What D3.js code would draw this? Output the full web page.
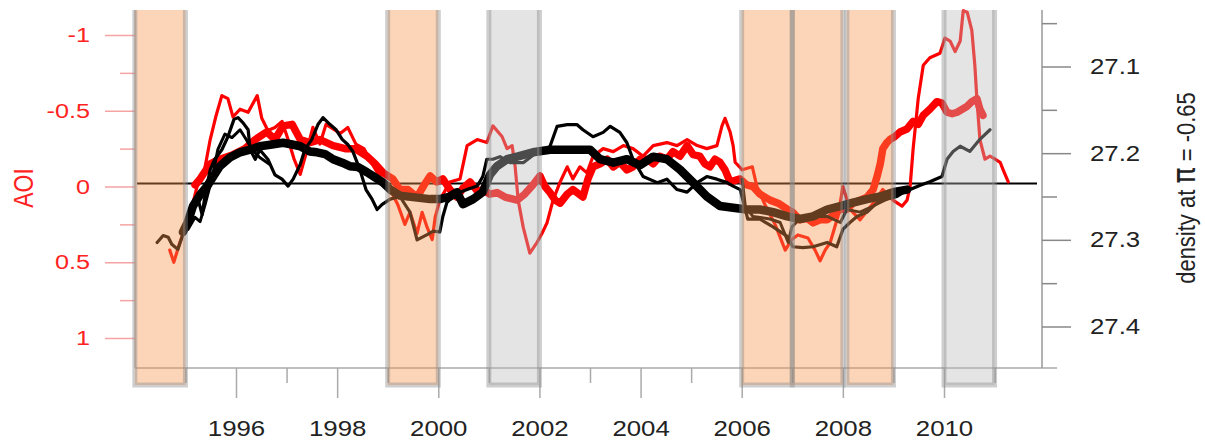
<!DOCTYPE html>
<html>
<head>
<meta charset="utf-8">
<script src="https://cdn.jsdelivr.net/npm/d3@7"></script>
<style>
  body { margin: 0; background: #fff; }
  text { font-family: "Liberation Sans", Arial, sans-serif; }
</style>
</head>
<body>
<div id="chart"></div>
<script>
// AOI (left axis, reversed), thin red line
var aoiThin = [[1994.69,0.42],[1994.77,0.50],[1994.89,0.37],[1995.09,0.19],[1995.23,0.00],[1995.35,-0.06],
  [1995.49,-0.31],[1995.60,-0.46],[1995.72,-0.60],[1995.84,-0.58],[1995.94,-0.46],[1996.08,-0.51],
  [1996.24,-0.49],[1996.42,-0.60],[1996.51,-0.45],[1996.63,-0.37],[1996.77,-0.39],[1996.91,-0.43],
  [1997.03,-0.31],[1997.15,-0.18],[1997.27,-0.08],[1997.38,-0.21],[1997.52,-0.39],[1997.66,-0.28],
  [1997.78,-0.41],[1997.92,-0.38],[1998.06,-0.35],[1998.21,-0.39],[1998.37,-0.28],[1998.53,-0.25],
  [1998.69,-0.15],[1998.85,-0.06],[1999.05,0.02],[1999.20,0.12],[1999.34,0.25],[1999.44,0.17],
  [1999.58,0.31],[1999.68,0.17],[1999.78,0.27],[1999.88,0.35],[1999.94,0.20],[2000.03,0.09],
  [2000.23,-0.03],[2000.43,-0.05],[2000.57,-0.27],[2000.77,-0.31],[2000.96,-0.29],[2001.08,-0.40],
  [2001.26,-0.33],[2001.36,-0.25],[2001.46,-0.27],[2001.52,-0.13],[2001.58,0.09],[2001.68,0.27],
  [2001.81,0.44],[2001.95,0.37],[2002.05,0.31],[2002.15,0.24],[2002.27,0.09],[2002.41,-0.03],
  [2002.55,-0.13],[2002.66,-0.05],[2002.80,-0.13],[2002.94,-0.09],[2003.06,-0.20],[2003.26,-0.25],
  [2003.46,-0.23],[2003.66,-0.27],[2003.85,-0.25],[2004.05,-0.20],[2004.25,-0.27],[2004.52,-0.29],
  [2004.72,-0.27],[2004.92,-0.31],[2005.12,-0.27],[2005.31,-0.25],[2005.51,-0.27],[2005.61,-0.40],
  [2005.67,-0.45],[2005.77,-0.36],[2005.83,-0.27],[2005.87,-0.16],[2006.01,-0.11],[2006.21,-0.13],
  [2006.30,0.00],[2006.46,0.12],[2006.66,0.25],[2006.86,0.42],[2006.99,0.35],[2007.11,0.32],
  [2007.31,0.34],[2007.45,0.42],[2007.55,0.49],[2007.65,0.42],[2007.75,0.37],[2007.91,0.19],
  [2008.00,0.00],[2008.14,0.15],[2008.34,0.22],[2008.60,0.11],[2008.79,0.02],[2008.99,0.09],
  [2009.17,0.13],[2009.27,0.09],[2009.33,0.00],[2009.39,-0.25],[2009.49,-0.58],[2009.59,-0.80],
  [2009.72,-0.85],[2009.92,-0.88],[2010.02,-0.98],[2010.12,-0.96],[2010.22,-0.89],[2010.32,-0.96],
  [2010.38,-1.16],[2010.46,-1.15],[2010.55,-1.03],[2010.61,-0.80],[2010.65,-0.58],[2010.71,-0.31],
  [2010.81,-0.18],[2010.91,-0.20],[2011.01,-0.18],[2011.11,-0.16],[2011.17,-0.11],[2011.27,-0.03]];

// AOI, thick red line
var aoiThick = [[1995.19,-0.01],[1995.29,-0.05],[1995.49,-0.15],[1995.68,-0.18],[1995.94,-0.21],
  [1996.18,-0.25],[1996.38,-0.31],[1996.61,-0.36],[1996.77,-0.31],[1996.93,-0.40],[1997.11,-0.41],
  [1997.27,-0.31],[1997.46,-0.29],[1997.66,-0.31],[1997.92,-0.27],[1998.16,-0.25],[1998.35,-0.25],
  [1998.59,-0.20],[1998.75,-0.15],[1998.91,-0.09],[1999.10,-0.05],[1999.24,0.02],[1999.40,0.02],
  [1999.58,0.07],[1999.72,-0.01],[1999.84,-0.07],[1999.97,-0.03],[2000.09,-0.05],[2000.23,0.02],
  [2000.37,0.07],[2000.49,0.01],[2000.63,-0.03],[2000.77,0.03],[2000.88,0.02],[2001.02,0.05],
  [2001.16,0.04],[2001.32,0.07],[2001.56,0.09],[2001.71,0.05],[2001.87,-0.01],[2002.01,-0.07],
  [2002.11,0.00],[2002.21,0.04],[2002.31,0.09],[2002.41,0.11],[2002.55,0.05],[2002.66,0.02],
  [2002.86,0.07],[2002.96,-0.05],[2003.06,-0.13],[2003.20,-0.15],[2003.34,-0.18],[2003.46,-0.13],
  [2003.59,-0.16],[2003.73,-0.11],[2003.85,-0.13],[2003.99,-0.18],[2004.13,-0.18],[2004.25,-0.15],
  [2004.38,-0.20],[2004.52,-0.18],[2004.64,-0.23],[2004.78,-0.20],[2004.92,-0.27],[2005.04,-0.21],
  [2005.17,-0.20],[2005.27,-0.15],[2005.37,-0.13],[2005.47,-0.18],[2005.57,-0.16],[2005.67,-0.11],
  [2005.77,-0.03],[2005.97,-0.05],[2006.10,-0.01],[2006.22,0.00],[2006.36,0.05],[2006.56,0.09],
  [2006.72,0.11],[2006.90,0.15],[2007.01,0.17],[2007.15,0.22],[2007.29,0.21],[2007.41,0.24],
  [2007.55,0.22],[2007.69,0.22],[2007.81,0.19],[2007.95,0.15],[2008.08,0.15],[2008.20,0.11],
  [2008.34,0.09],[2008.48,0.07],[2008.60,0.02],[2008.68,-0.07],[2008.74,-0.15],[2008.79,-0.25],
  [2008.87,-0.29],[2008.93,-0.31],[2009.03,-0.33],[2009.13,-0.36],[2009.27,-0.38],[2009.39,-0.43],
  [2009.49,-0.41],[2009.59,-0.47],[2009.72,-0.51],[2009.86,-0.56],[2009.96,-0.55],[2010.06,-0.49],
  [2010.16,-0.48],[2010.26,-0.49],[2010.36,-0.51],[2010.46,-0.53],[2010.55,-0.56],[2010.65,-0.58],
  [2010.71,-0.51],[2010.77,-0.47]];

// density at pi = -0.65 (right axis), thin black line
var densThin = [[1994.44,27.303],[1994.56,27.295],[1994.66,27.297],[1994.73,27.305],[1994.85,27.311],
  [1994.95,27.294],[1995.05,27.276],[1995.15,27.265],[1995.25,27.253],[1995.33,27.271],[1995.39,27.248],
  [1995.49,27.219],[1995.58,27.207],[1995.72,27.196],[1995.84,27.181],[1995.96,27.161],[1996.04,27.159],
  [1996.14,27.165],[1996.24,27.173],[1996.28,27.196],[1996.38,27.207],[1996.47,27.196],[1996.63,27.207],
  [1996.77,27.225],[1996.91,27.230],[1997.03,27.238],[1997.13,27.230],[1997.27,27.213],[1997.36,27.196],
  [1997.50,27.184],[1997.62,27.167],[1997.72,27.159],[1997.86,27.167],[1997.98,27.173],[1998.10,27.184],
  [1998.21,27.190],[1998.31,27.198],[1998.45,27.219],[1998.57,27.242],[1998.69,27.253],[1998.79,27.265],
  [1998.89,27.259],[1999.05,27.253],[1999.24,27.250],[1999.44,27.268],[1999.58,27.300],[1999.78,27.294],
  [1999.90,27.290],[2000.03,27.291],[2000.09,27.273],[2000.17,27.257],[2000.29,27.250],[2000.43,27.245],
  [2000.57,27.242],[2000.77,27.238],[2000.88,27.227],[2000.96,27.207],[2001.08,27.207],[2001.22,27.204],
  [2001.42,27.211],[2001.68,27.211],[2001.95,27.199],[2002.11,27.196],[2002.21,27.192],[2002.35,27.169],
  [2002.55,27.167],[2002.74,27.167],[2002.86,27.173],[2003.06,27.181],[2003.26,27.176],[2003.40,27.169],
  [2003.59,27.176],[2003.73,27.188],[2003.85,27.207],[2004.05,27.227],[2004.33,27.234],[2004.52,27.230],
  [2004.72,27.242],[2004.92,27.245],[2005.12,27.234],[2005.31,27.227],[2005.51,27.230],[2005.71,27.234],
  [2005.83,27.238],[2005.97,27.242],[2006.12,27.276],[2006.36,27.276],[2006.62,27.285],[2006.90,27.296],
  [2007.01,27.308],[2007.21,27.309],[2007.41,27.308],[2007.69,27.303],[2007.88,27.308],[2008.00,27.288],
  [2008.14,27.280],[2008.28,27.273],[2008.48,27.268],[2008.68,27.257],[2008.87,27.253],[2009.07,27.250],
  [2009.23,27.244],[2009.33,27.242],[2009.53,27.237],[2009.72,27.233],[2009.96,27.227],[2010.06,27.207],
  [2010.18,27.198],[2010.32,27.192],[2010.51,27.198],[2010.71,27.184],[2010.91,27.173]];

// second thin black line, two stretches
var densThinB1 = [[1995.05,27.288],[1995.19,27.274],[1995.29,27.279],[1995.39,27.259],[1995.53,27.228],
  [1995.64,27.196],[1995.78,27.178],[1995.92,27.182],[1996.08,27.173],[1996.20,27.184],[1996.32,27.196],
  [1996.47,27.205],[1996.67,27.213]];
var densThinB2 = [[2006.01,27.230],[2006.07,27.261],[2006.22,27.273],[2006.56,27.276],[2006.76,27.280],
  [2006.92,27.303],[2006.99,27.285],[2007.15,27.276],[2007.41,27.273],[2007.69,27.273],[2007.95,27.280],
  [2008.08,27.265],[2008.34,27.268],[2008.60,27.261],[2008.87,27.253]];

// density, thick black line
var densThick = [[1994.95,27.291],[1995.05,27.279],[1995.15,27.261],[1995.29,27.248],[1995.43,27.238],
  [1995.55,27.227],[1995.68,27.215],[1995.88,27.205],[1996.08,27.199],[1996.28,27.196],[1996.47,27.192],
  [1996.71,27.190],[1996.93,27.188],[1997.11,27.190],[1997.27,27.192],[1997.46,27.198],[1997.60,27.199],
  [1997.76,27.201],[1997.92,27.207],[1998.10,27.211],[1998.25,27.215],[1998.41,27.216],[1998.59,27.222],
  [1998.75,27.228],[1998.91,27.234],[1999.05,27.242],[1999.24,27.249],[1999.54,27.251],[1999.84,27.253],
  [2000.03,27.253],[2000.23,27.250],[2000.37,27.245],[2000.49,27.259],[2000.69,27.253],[2000.88,27.245],
  [2001.02,27.225],[2001.16,27.215],[2001.36,27.207],[2001.56,27.204],[2001.87,27.199],[2002.21,27.196],
  [2002.66,27.196],[2003.00,27.196],[2003.20,27.207],[2003.46,27.211],[2003.73,27.207],[2003.99,27.214],
  [2004.25,27.204],[2004.52,27.207],[2004.78,27.219],[2005.04,27.234],[2005.31,27.250],[2005.57,27.261],
  [2005.83,27.263],[2006.10,27.265],[2006.36,27.265],[2006.62,27.268],[2006.90,27.273],[2007.15,27.276],
  [2007.41,27.273],[2007.69,27.265],[2007.95,27.261],[2008.20,27.257],[2008.48,27.253],[2008.74,27.250],
  [2008.99,27.245],[2009.27,27.242]];

var orangeBands = [[1994, 1995], [1999, 2000], [2006, 2007], [2007, 2008], [2008.08, 2009]];
var grayBands = [[2001, 2002], [2010, 2011]];

var yearTicks = [1996, 1998, 2000, 2002, 2004, 2006, 2008, 2010];
var yearMinor = [1995, 1997, 1999, 2001, 2003, 2005, 2007, 2009, 2011];
var aoiTicks = [-1, -0.5, 0, 0.5, 1];
var aoiMinor = [-0.75, -0.25, 0.25, 0.75];
var densTicks = [27.1, 27.2, 27.3, 27.4];
var densMinor = [27.05, 27.15, 27.25, 27.35];
var refDensity = 27.235;

var W = 1205, H = 443;
var plotTop = 10, plotBottom = 368, leftX = 135, rightX = 1042;

var svg = d3.select("#chart").append("svg")
  .attr("width", W)
  .attr("height", H);

var x = d3.scaleLinear().domain([1996, 2010]).range([236, 944]);
var yL = d3.scaleLinear().domain([-1, 1]).range([35, 338]);
var yR = d3.scaleLinear().domain([27.1, 27.4]).range([66.5, 326.5]);

var STRETCH = "scale(1.2,1)";

// frame lines
svg.append("line")
  .attr("x1", leftX).attr("x2", 1057).attr("y1", plotBottom).attr("y2", plotBottom)
  .attr("stroke", "#aaa").attr("stroke-width", 1.5);
svg.append("line")
  .attr("x1", leftX).attr("x2", leftX).attr("y1", plotTop).attr("y2", plotBottom)
  .attr("stroke", "#bbb").attr("stroke-width", 1.5);
svg.append("line")
  .attr("x1", rightX).attr("x2", rightX).attr("y1", plotTop).attr("y2", plotBottom)
  .attr("stroke", "#999").attr("stroke-width", 1.5);

function styleAxis(g, color) {
  g.select(".domain").remove();
  g.selectAll(".tick line").attr("stroke", color).attr("stroke-width", 1.5);
}

// bottom axis
var xAxis = svg.append("g")
  .attr("transform", "translate(0," + plotBottom + ")")
  .call(d3.axisBottom(x).tickValues(yearTicks).tickSize(30).tickFormat(function(d) { return String(d); }));
styleAxis(xAxis, "#aaa");
xAxis.selectAll("text")
  .attr("y", 0).attr("dy", null)
  .attr("transform", "translate(0,68) " + STRETCH)
  .attr("fill", "#222").attr("font-size", 21.5);

var xMinor = svg.append("g")
  .attr("transform", "translate(0," + plotBottom + ")")
  .call(d3.axisBottom(x).tickValues(yearMinor).tickSize(15).tickFormat(""));
styleAxis(xMinor, "#aaa");

// left axis (AOI)
var lAxis = svg.append("g")
  .attr("transform", "translate(" + leftX + ",0)")
  .call(d3.axisLeft(yL).tickValues(aoiTicks).tickSize(30).tickFormat(function(d) { return String(d); }));
styleAxis(lAxis, "#f5a3a3");
lAxis.selectAll("text")
  .attr("x", 0)
  .attr("transform", "translate(-45,0) " + STRETCH)
  .attr("fill", "#f22").attr("font-size", 21);

var lMinor = svg.append("g")
  .attr("transform", "translate(" + leftX + ",0)")
  .call(d3.axisLeft(yL).tickValues(aoiMinor).tickSize(15).tickFormat(""));
styleAxis(lMinor, "#f5a3a3");

// right axis (density)
var rAxis = svg.append("g")
  .attr("transform", "translate(" + rightX + ",0)")
  .call(d3.axisRight(yR).tickValues(densTicks).tickSize(29).tickFormat(function(d) { return d.toFixed(1); }));
styleAxis(rAxis, "#888");
rAxis.selectAll("text")
  .attr("x", 0)
  .attr("transform", "translate(48,0) " + STRETCH)
  .attr("fill", "#222").attr("font-size", 21.5);

var rMinor = svg.append("g")
  .attr("transform", "translate(" + rightX + ",0)")
  .call(d3.axisRight(yR).tickValues(densMinor).tickSize(15).tickFormat(""));
styleAxis(rMinor, "#888");

// axis titles
svg.append("text")
  .attr("transform", "translate(33,188) rotate(-90) scale(1,1.2)")
  .attr("text-anchor", "middle")
  .attr("font-size", 23)
  .attr("fill", "#f22")
  .text("AOI");

var dLabel = svg.append("text")
  .attr("transform", "translate(1195,188) rotate(-90) scale(1,1.2)")
  .attr("text-anchor", "middle")
  .attr("font-size", 22)
  .attr("fill", "#222");
dLabel.append("tspan").text("density at ");
dLabel.append("tspan").attr("font-size", 27).attr("font-family", "DejaVu Sans").text("π");
dLabel.append("tspan").text(" = -0.65");

// reference line
svg.append("line")
  .attr("x1", 137).attr("x2", 1037)
  .attr("y1", yR(refDensity)).attr("y2", yR(refDensity))
  .attr("stroke", "#000").attr("stroke-width", 2);

var lineL = d3.line().x(function(d) { return x(d[0]); }).y(function(d) { return yL(d[1]); });
var lineR = d3.line().x(function(d) { return x(d[0]); }).y(function(d) { return yR(d[1]); });

function drawLine(data, gen, color, width) {
  svg.append("path")
    .datum(data)
    .attr("d", gen)
    .attr("fill", "none")
    .attr("stroke", color)
    .attr("stroke-width", width)
    .attr("stroke-linejoin", "round")
    .attr("stroke-linecap", "round");
}

drawLine(aoiThin, lineL, "#ff0000", 3.2);
drawLine(aoiThick, lineL, "#ff0000", 7.5);
drawLine(densThinB1, lineR, "#000", 3);
drawLine(densThinB2, lineR, "#000", 3);
drawLine(densThin, lineR, "#000", 3.2);
drawLine(densThick, lineR, "#000", 8.5);

// shaded periods, drawn on top so the lines show through tinted
function drawBands(bands, fill) {
  var g = svg.append("g");
  g.selectAll("rect")
    .data(bands)
    .enter().append("rect")
    .attr("x", function(d) { return x(d[0]); })
    .attr("y", plotTop)
    .attr("width", function(d) { return x(d[1]) - x(d[0]); })
    .attr("height", 385 - plotTop)
    .attr("fill", fill)
    .attr("fill-opacity", 0.4);
  g.selectAll("path")
    .data(bands)
    .enter().append("path")
    .attr("d", function(d) {
      return "M" + x(d[0]) + "," + plotTop + "V385H" + x(d[1]) + "V" + plotTop;
    })
    .attr("fill", "none")
    .attr("stroke", "#8a8a8a")
    .attr("stroke-opacity", 0.42)
    .attr("stroke-width", 5);
}

drawBands(orangeBands, "rgb(247,150,77)");
drawBands(grayBands, "rgb(188,188,188)");
</script>
</body>
</html>
